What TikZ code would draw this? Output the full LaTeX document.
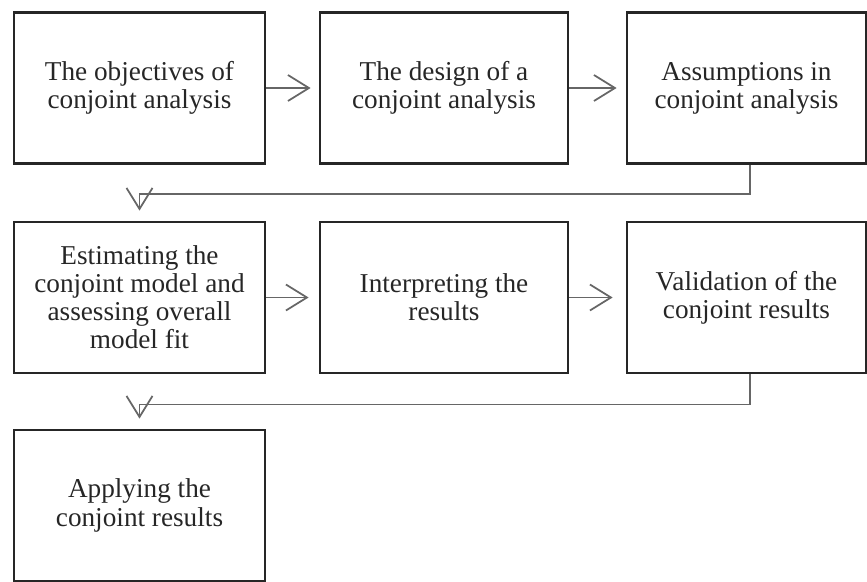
\documentclass[tikz,border=0pt]{standalone}
\usepackage{fontspec}
\setmainfont{Liberation Serif}
\usetikzlibrary{arrows.meta}
\begin{document}
\begin{tikzpicture}[x=0.02cm, y=-0.02cm,
    every node/.style={font=\fontsize{15.5}{16}\selectfont, text=black!85, align=center},
    stage/.style={draw=black!85, line width=1.6pt, minimum height=3.02cm, inner sep=0pt},
    link/.style={draw=black!60, line width=1pt, -{Straight Barb[length=0.42cm, width=0.52cm, line width=1pt]}}]
    \useasboundingbox (0,0) rectangle (867,582);

    % Первая строка
    \node[stage, minimum width=5.02cm] (obj) at (139.5,88) {The objectives of\\conjoint analysis};
    \node[stage, minimum width=4.96cm] (des) at (444,88) {The design of a\\conjoint analysis};
    \node[stage, minimum width=4.78cm] (ass) at (746.5,88) {Assumptions in\\conjoint analysis};

    % Вторая строка
    \node[stage, minimum width=5.02cm] (est) at (139.5,297.5) {Estimating the\\conjoint model and\\assessing overall\\model fit};
    \node[stage, minimum width=4.96cm] (int) at (444,297.5) {Interpreting the\\results};
    \node[stage, minimum width=4.78cm] (val) at (746.5,297.5) {Validation of the\\conjoint results};

    % Третья строка
    \node[stage, minimum width=5.02cm] (app) at (139.5,505.5) {Applying the\\conjoint results};

    % Стрелки внутри строк
    \draw[link, shorten >=0.16cm] (obj) -- (des);
    \draw[link, shorten >=0.18cm] (des) -- (ass);
    \draw[link, shorten >=0.2cm] (est) -- (int);
    \draw[link, shorten >=0.26cm] (int) -- (val);

    % Переходы на следующую строку
    \draw[link, shorten >=0.2cm] ([xshift=0.07cm]ass.south) -- ++(0,29) -| (est.north);
    \draw[link, shorten >=0.2cm] ([xshift=0.07cm]val.south) -- ++(0,30) -| (app.north);
\end{tikzpicture}
\end{document}
